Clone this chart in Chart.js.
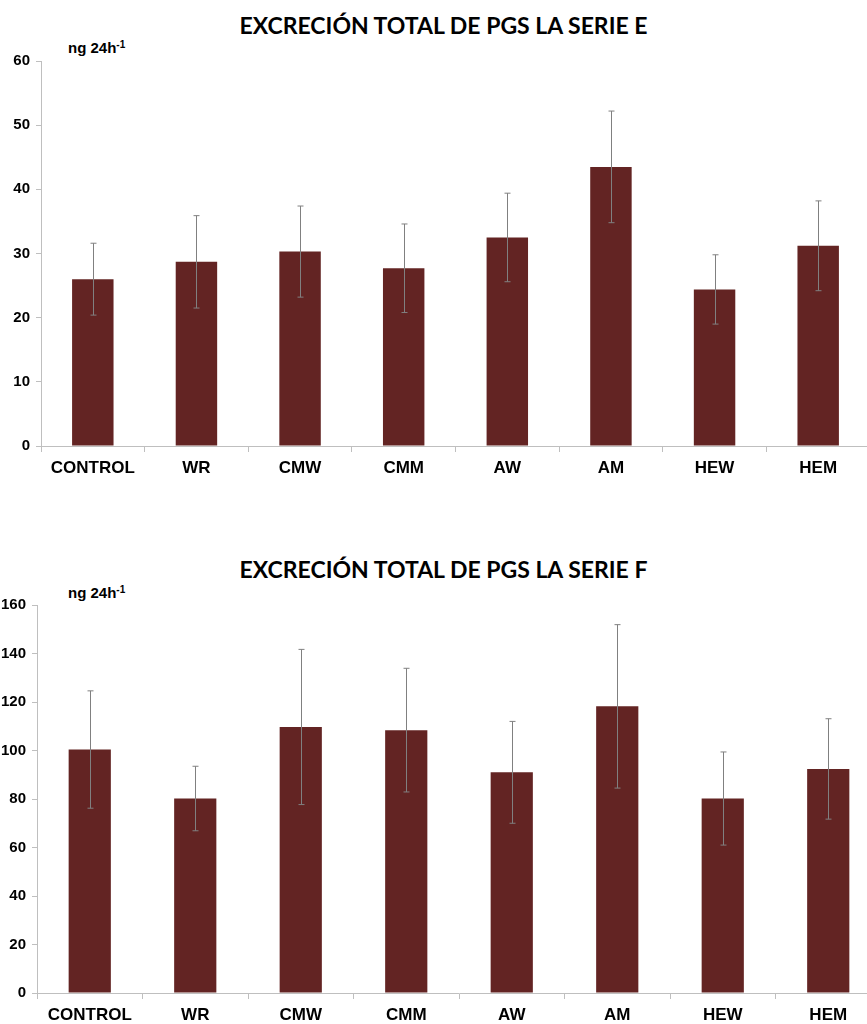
<!DOCTYPE html>
<html>
<head>
<meta charset="utf-8">
<script src="https://cdn.jsdelivr.net/npm/chart.js@4.4.0/dist/chart.umd.min.js"></script>
<style>
  html, body { margin: 0; padding: 0; background: #fff; }
  body { width: 867px; height: 1024px; overflow: hidden; position: relative; }
  canvas { position: absolute; left: 0; }
  #chartE { top: 0; }
  #chartF { top: 540px; }
  .title {
    position: absolute; left: 0; width: 887px; text-align: center;
    font-family: Lato, "Open Sans", sans-serif; font-weight: bold; font-size: 23px;
    color: #000; line-height: 1;
  }
  .unit {
    position: absolute; left: 68px;
    font-family: "Liberation Sans", Arial, sans-serif; font-weight: bold; font-size: 15px;
    color: #000; line-height: 1;
  }
  .unit sup { font-size: 10px; vertical-align: 5px; }
</style>
</head>
<body>
<div class="title" style="top:14px">EXCRECIÓN TOTAL DE PGS LA SERIE E</div>
<div class="unit" style="top:40px">ng 24h<sup>-1</sup></div>
<canvas id="chartE" width="870" height="490"></canvas>

<div class="title" style="top:558px">EXCRECIÓN TOTAL DE PGS LA SERIE F</div>
<div class="unit" style="top:585px">ng 24h<sup>-1</sup></div>
<canvas id="chartF" width="881" height="497"></canvas>

<script>
const groups = ['CONTROL', 'WR', 'CMW', 'CMM', 'AW', 'AM', 'HEW', 'HEM'];

// Serie E: medias y error
const serieE = [26.0, 28.7, 30.3, 27.7, 32.5, 43.5, 24.4, 31.2];
const errE = [5.6, 7.2, 7.1, 6.9, 6.9, 8.7, 5.4, 7.0];

// Serie F: medias y error
const serieF = [100.4, 80.2, 109.7, 108.4, 91.0, 118.2, 80.2, 92.4];
const errF = [24.2, 13.3, 32.0, 25.5, 21.0, 33.7, 19.2, 20.7];

const barColor = '#632423';
const axisColor = '#bfbfbf';
const whiskerColor = '#808080';

// dibuja las barras de error con las escalas del gráfico
const errorBars = {
    id: 'errorBars',
    afterDatasetsDraw(chart, args, opts) {
        const ctx = chart.ctx;
        const meta = chart.getDatasetMeta(0);
        const y = chart.scales.y;
        const values = chart.data.datasets[0].data;
        ctx.save();
        ctx.strokeStyle = whiskerColor;
        ctx.lineWidth = 1;
        meta.data.forEach((bar, i) => {
            const x = Math.round(bar.x) + 0.5;
            const yHi = y.getPixelForValue(values[i] + opts.err[i]);
            const yLo = y.getPixelForValue(values[i] - opts.err[i]);
            ctx.beginPath();
            ctx.moveTo(x, yHi);
            ctx.lineTo(x, yLo);
            ctx.moveTo(x - 3, yHi);
            ctx.lineTo(x + 3, yHi);
            ctx.moveTo(x - 3, yLo);
            ctx.lineTo(x + 3, yLo);
            ctx.stroke();
        });
        ctx.restore();
    }
};

function makeChart(id, values, err, max, step, axisW, top) {
    const ctx = document.getElementById(id).getContext('2d');
    return new Chart(ctx, {
        type: 'bar',
        data: {
            labels: groups,
            datasets: [{
                data: values,
                backgroundColor: barColor,
                borderWidth: 0,
                barPercentage: 0.4,
                categoryPercentage: 1.0
            }]
        },
        options: {
            responsive: false,
            animation: false,
            layout: { padding: { top: top, left: 0, right: 0, bottom: 0 } },
            scales: {
                x: {
                    afterFit: (s) => { s.height = 44; },
                    grid: {
                        offset: true,
                        drawOnChartArea: false,
                        drawTicks: true,
                        tickLength: 6,
                        color: axisColor
                    },
                    border: { display: true, color: axisColor, width: 1 },
                    ticks: {
                        color: '#000',
                        padding: 6,
                        font: { family: 'Liberation Sans', size: 17, weight: 'bold' }
                    }
                },
                y: {
                    min: 0,
                    max: max,
                    afterFit: (s) => { s.width = axisW; },
                    grid: {
                        drawOnChartArea: false,
                        drawTicks: true,
                        tickLength: 5,
                        color: axisColor
                    },
                    border: { display: true, color: axisColor, width: 1 },
                    ticks: {
                        stepSize: step,
                        color: '#000',
                        padding: 6,
                        font: { family: 'Liberation Sans', size: 15, weight: 'bold' }
                    }
                }
            },
            plugins: {
                legend: { display: false },
                tooltip: { enabled: false },
                errorBars: { err: err }
            }
        },
        plugins: [errorBars]
    });
}

makeChart('chartE', serieE, errE, 60, 10, 41, 61);
makeChart('chartF', serieF, errF, 160, 20, 37, 65);
</script>
</body>
</html>
